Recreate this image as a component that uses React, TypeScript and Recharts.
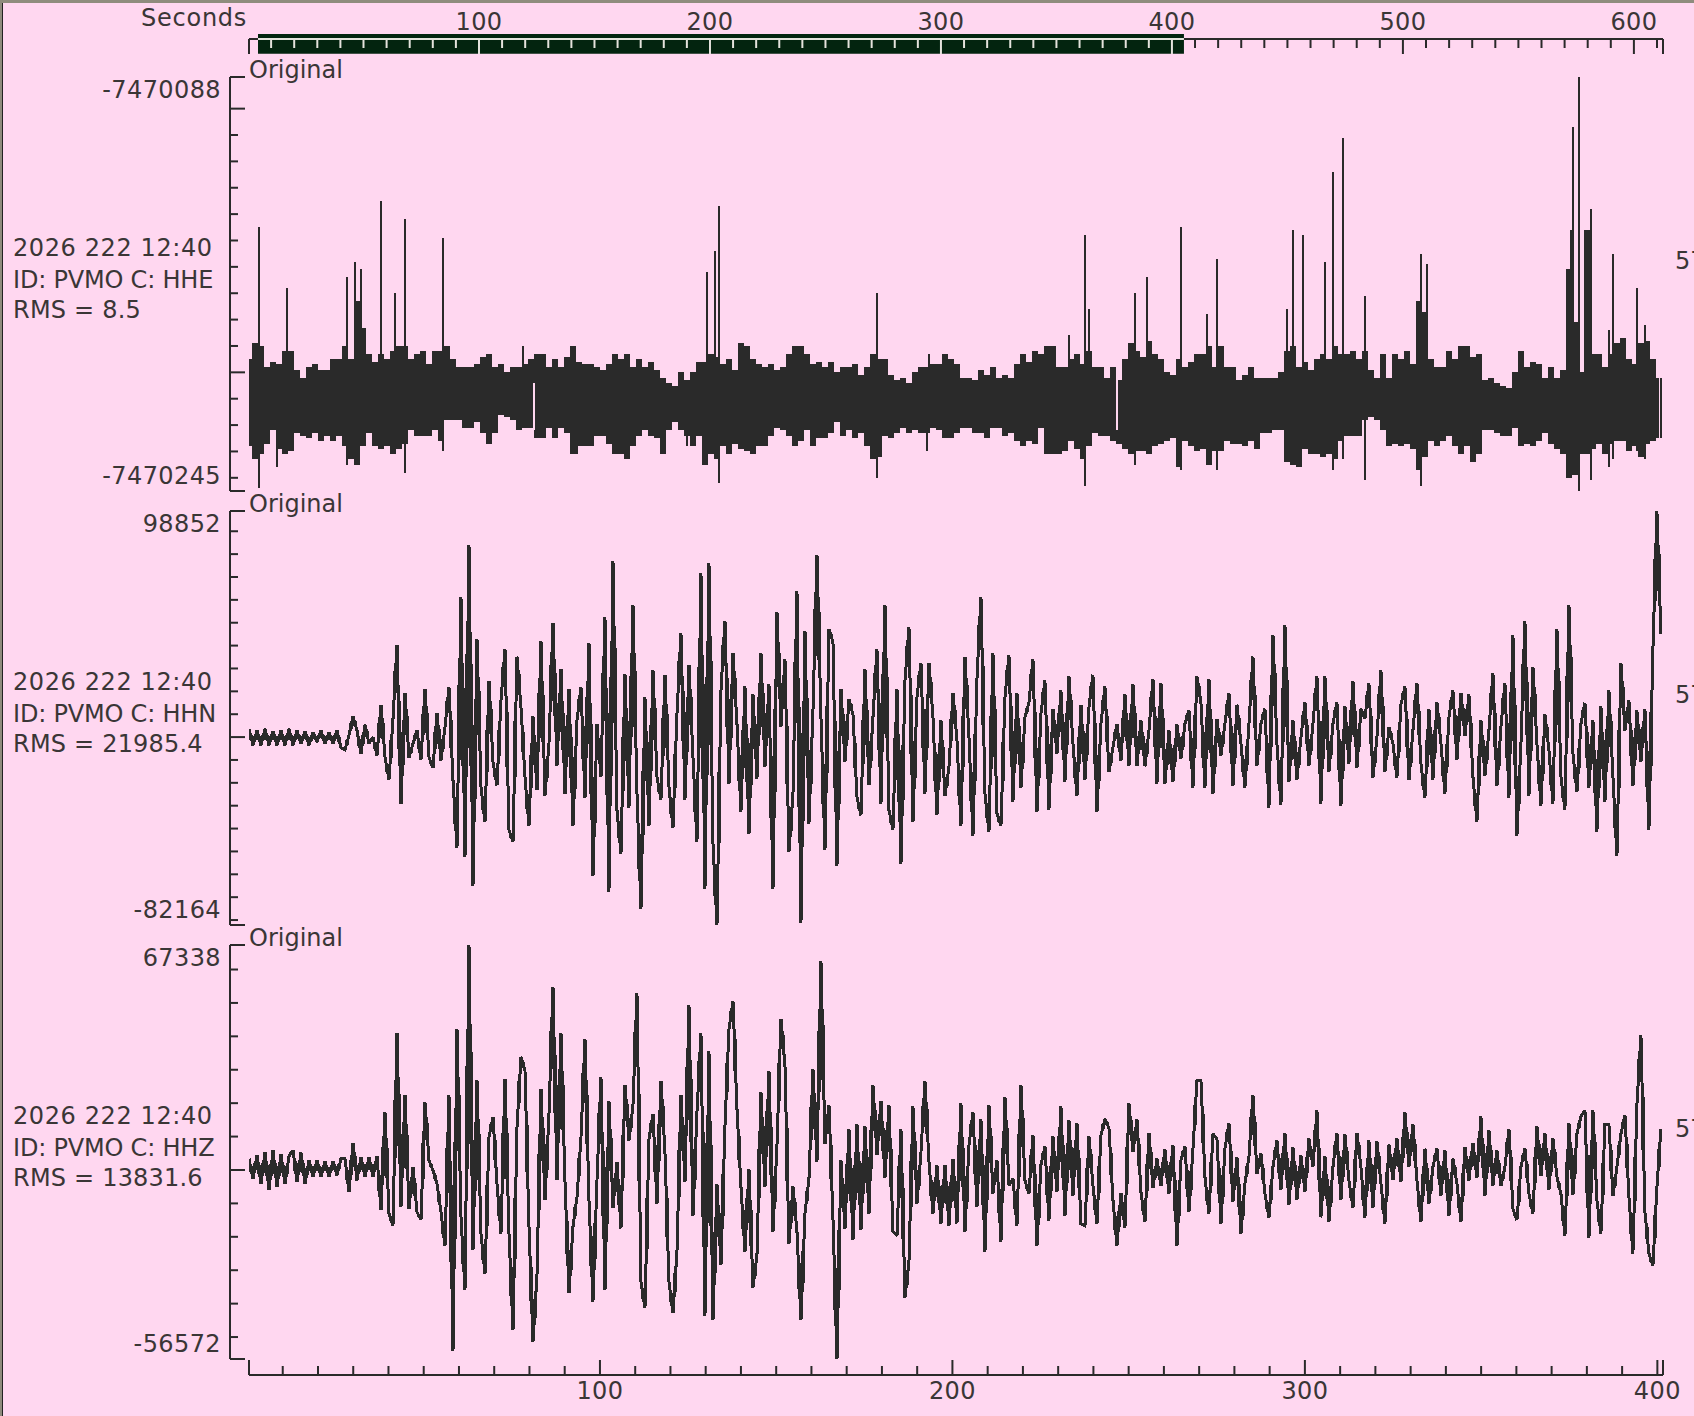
import React from "react";
import { Area, ComposedChart, Line, ReferenceArea, ReferenceLine, XAxis, YAxis } from "recharts";

const W = 1694;
const H = 1416;
const BG = "#ffd7f0";
const INK = "#2a2a2a";
const TXT = "#3a3636";
const FONT = "'DejaVu Sans', sans-serif";

const SEC_MIN = 0.43;
const SEC_MAX = 401.6;
const TOP_SEC_MAX = 612.6;
const WIN_START = 4.33;
const WIN_END = 405.2;
const TRACE_STEP = 1.1348; // seconds per plotted sample, HHN / HHZ
const ENV_STEP = 1.7021; // seconds per envelope column, HHE
const E_BASE = -7470000;
const BODY_SHARE = 0.3; // share of each swing drawn as a solid stem

const TIME_LABEL = "2026 222 12:40";
const PANEL_LABEL = "Original";
const RIGHT_LABEL = "57";
const AXIS_TITLE = "Seconds";

// HHE envelope, counts relative to E_BASE
const HHE_UPPER = [
  -195,-189,-190,-198,-196,-197,-192,-192,-199,-202,-198,-197,-199,-199,-195,-195,-190,-195,-173,-183,-193,-196,-193,-195,-192,-190,-190,-195,-193,-192,-197,-192,-192,-190,-195,-198,-198,-198,-197,-194,-193,-198,
  -197,-200,-198,-198,-197,-195,-193,-193,-198,-195,-198,-194,-190,-196,-197,-197,-198,-199,-197,-193,-195,-193,-198,-195,-198,-196,-199,-202,-204,-205,-200,-203,-200,-196,-196,-193,-194,-197,-195,-199,-189,-190,-195,-197,-198,-197,-199,-198,-193,-190,-190,-193,-197,-196,-198,-196,-200,-198,-198,
  -197,-201,-198,-193,-195,-195,-201,-203,-202,-204,-200,-198,-198,-197,-197,-193,-195,-197,-202,-202,-203,-199,-201,-198,-202,-201,-202,-197,-193,-196,-192,-193,-190,-190,-198,-198,-195,-193,-197,-192,-198,-198,-202,-198,-203,-195,-189,-192,-194,-188,-193,-195,-200,-201,-195,-198,-196,-193,
  -193,-190,-198,-190,-198,-198,-203,-201,-198,-202,-202,-202,-202,-200,-192,-190,-198,-196,-199,-195,-193,-195,-190,-193,-193,-192,-195,-192,-199,-202,-193,-202,-193,-195,-192,-197,-173,-177,-195,-198,-198,-192,-195,-190,-190,-194,-193,-203,-202,-204,-205,-206,-200,-192,-198,-196,-197,-202,-198,-202,-199,-161,-181,-200,-146,-193,-193,-198,-193,-189,-187,-195,-197,-189,-188,-195,-202,
];
const HHE_LOWER = [
  -228,-233,-231,-227,-222,-229,-231,-230,-223,-224,-225,-223,-226,-224,-226,-224,-228,-233,-235,-228,-223,-228,-229,-228,-231,-229,-227,-222,-224,-224,-224,-222,-226,-218,-218,-218,-221,-221,-219,-223,-227,-223,
  -216,-217,-218,-222,-221,-221,-225,-225,-221,-225,-221,-223,-231,-228,-228,-228,-224,-224,-227,-231,-231,-233,-228,-224,-222,-224,-225,-231,-222,-219,-222,-224,-228,-224,-235,-231,-233,-228,-231,-227,-229,-230,-231,-228,-228,-224,-221,-222,-224,-228,-226,-222,-228,-225,-225,-223,-219,-224,-222,
  -225,-223,-228,-233,-232,-224,-225,-223,-221,-223,-222,-223,-223,-221,-222,-225,-225,-223,-221,-221,-223,-223,-225,-221,-221,-224,-223,-226,-228,-226,-227,-221,-231,-231,-231,-230,-226,-229,-233,-228,-223,-224,-224,-226,-227,-229,-231,-230,-230,-231,-228,-227,-226,-225,-236,-226,-228,-230,
  -229,-235,-230,-230,-226,-227,-227,-228,-226,-229,-223,-223,-222,-222,-234,-235,-236,-229,-231,-231,-232,-231,-233,-226,-224,-224,-224,-218,-217,-218,-222,-228,-227,-228,-227,-229,-237,-232,-226,-228,-226,-224,-228,-231,-228,-234,-231,-222,-222,-223,-224,-224,-221,-228,-227,-228,-226,-223,-227,-229,-231,-240,-239,-231,-231,-229,-227,-231,-227,-226,-226,-230,-228,-232,-227,-226,-225,
];

// HHE isolated excursions: time, top, bottom
const HHE_SPIKE_SEC = [3.27,8.29,11.13,28.15,30.5,32.1,37.8,41.85,44.7,55.4,78.2,93.5,107.1,117.3,124.7,129.2,130.4,132.6,133.8,178.6,192.8,193.3,233.1,237.6,238.7,251.8,255.2,264.8,272.2,275,294.9,296.6,299.4,305.7,307.9,310.8,317,332.9,334.6,375.4,376,377.7,381.1,386.2,387.4,394.2,396.5,401];
const HHE_SPIKE_TOP = [-145,-215,-168,-164,-158,-161,-135,-170,-142,-149,-190,-205,-205,-205,-205,-205,-162,-154,-137,-170,-205,-193,-186,-148,-176,-170,-164,-145,-178,-157,-176,-146,-148,-158,-124,-111,-171,-155,-159,-146,-107,-88,-138,-184,-155,-168,-182,-202];
const HHE_SPIKE_BOTTOM = [-244,-236,-215,-235,-225,-225,-225,-225,-238,-230,-215,-231,-233,-231,-228,-235,-215,-215,-242,-240,-230,-215,-215,-243,-215,-235,-215,-237,-235,-237,-215,-215,-215,-215,-237,-233,-241,-243,-215,-215,-215,-245,-241,-236,-233,-230,-233,-225];

// HHE telemetry dropouts: time, from, to
const HHE_GAP_SEC = [81.4, 246.6];
const HHE_GAP_TOP = [-204, -202];
const HHE_GAP_BOTTOM = [-222, -222];

// HHN trace, thousands of counts
const HHN_K = [
  3.6,-3.6,2.9,-3.6,3.6,-3.6,2.6,-3.6,2.9,-3.6,3.6,-3.6,2.9,-2.9,2.6,-3.6,2.2,-2.2,2.9,-2.9,2.2,-2.9,2.9,-4.7,-5.5,0.7,9,2.9,-7.3,5.4,-2.9,0,-8,14.1,-8.7,-18.6,8,40.3,-29.4,19.3,-9,-2.9,2.9,-9.9,21.1,-8.7,-13.5,10.6,-10.2,4.4,21.8,-18.9,-48.4,61.4,-52.3,84,-65,42.9,-21.8,-37.1,24.7,-10.9,-21.1,16,38.5,-40.7,-45.8,35.2,13.1,-17.4,-38.8,9,-23.3,42,-25.7,-2.9,49.9,-12.6,29.8,-25,21.1,-38.8,7.3,21.8,-26.5,41.1,-60.6,5.8,-17.4,52.6,-67.6,77.1,-32,-50.9,27.6,-30.8,57.9,-24.7,-75.3,17.4,-38.8,29.1,-17.4,-27.3,27.3,-21.8,-39.7,10.2,45.5,-27.3,31.7,-8.7,-45.8,71.7,-66.6,76.2,-46.5,-82.1,20.4,50.9,
  -20.4,36.8,5.8,-32.7,22.1,-42.2,18.6,-18.2,36.8,-13.1,23,-66.6,54.5,4.4,34.2,-50.2,-24.7,64,-81.4,46.5,-37.8,11.6,79.7,8.7,-49.4,47.3,41.4,-56.3,21.1,-10.9,16.7,9.9,-26.2,-34.2,29.8,-21.1,8.7,38.5,-29.1,57.9,-32,-40.4,21.1,-55.3,24.7,48,-37.1,17.4,32.4,-24.7,32.4,8.7,-34.2,7.3,-25.7,-13.1,19.3,-1.5,-38.8,35.2,0,-43.2,25.4,61.4,-24.7,-41.4,36.8,-33.4,-38.8,17.4,35.9,-28.4,19.3,-22.1,8.7,15.1,34.2,-32.7,10.2,24.7,-31.7,12.4,-7.3,20.4,-19.6,26.5,-2.9,-25.7,14.2,-18.9,13.1,27.3,-32.7,5.8,22.1,-15.3,-4.4,5.8,-10.2,18.6,-12.8,23,-12.8,7.3,-12.8,2.9,25.4,-20.4,23.8,-20.4,2.9,-19.6,5.5,-9.5,5.8,11.6,-22.1,26.5,15.1,-22.1,
  25.4,-24.7,8,-8,5.8,19.3,-21.4,14.2,-2.9,-22.1,5.8,35.2,-12.6,5.8,12.4,-30.8,44.8,-2.9,-29.8,49.1,-19.6,7.3,-18.6,0,15.1,-12.6,5.8,26.5,-29.1,26.5,-15.3,5.8,15.1,-30.1,13.4,-11.6,24.7,-13.4,12.4,8,23.7,-17.7,0,29.1,-15.3,4.4,-2.9,-17.7,14.2,22.1,-18.9,2.9,23.7,-11.6,-26.5,12.4,-18.6,15.1,-2.9,-24.7,8.7,20.4,-9.9,19.3,0.4,18.6,-17.4,-37.1,7.3,-17,2.9,28.1,-21.5,4.4,23.7,-26.5,44.8,-43.2,-2.9,50.9,-25.7,30.8,-2.9,-30.1,9.9,-5.8,-29.1,47.3,-17.4,-31.7,57.9,-7.3,-24,5.8,15,-22.1,7.3,-41.4,13.4,-28.4,20.4,-17.4,-51.9,32.4,2.9,16,-21.4,11.6,-10.9,12.4,-40.4,38.5,98.8,45.1,
];

// HHZ trace, thousands of counts
const HHZ_K = [
  3.4,-2.6,4.4,-4.1,5.4,-5.9,5.9,-5.1,4.7,-4.1,4.1,5.9,-3.6,5.2,-4.1,2.9,-2.1,2.9,-2.1,2.7,-2.1,2.7,-1.6,3.4,3.4,-6.6,8.1,-3.1,3.9,-2.1,3.9,-2.1,4.1,-12,17.2,-13,-16.7,41.1,-11,22.5,-11.6,0.9,-12.6,-14.8,20.2,2.9,-0.1,-4.1,-12.6,-22.7,22.5,-54.3,42.2,-14,-35.9,67.2,-24,26.8,-19,-31,9.8,15.8,-4.1,-19,27.3,-19,-47.9,12.8,33.9,29.7,-17,-51.4,-31.5,24.3,-9.1,16.8,54.8,-3.1,41,-3.6,-36.9,-17,-8.1,9.8,39.2,-9.1,-39.4,-3.1,
  27.9,-36,20.7,-11.4,2.4,-17.5,25.5,8.8,19.3,53.1,-33.5,-41.2,9.3,16.8,-10.1,26.7,5.3,-33.5,-42.9,-24.5,22.5,-3.6,49.3,-13.8,17.3,41,-43.6,35.7,-44.9,-4.3,-28.5,13.3,42.2,50.6,18.3,-5.1,-24.5,0.4,-35.2,-25.5,23.2,-5.1,29.7,-18.5,7.3,45.2,31.2,-22,-4.9,-18.5,-44.9,-13,-2.6,30.2,2.4,62.6,7.8,19.5,-14.5,-56.8,2.9,-17.5,12.3,-21,13.6,-18,13,-13.1,25.4,4.4,20.7,-2.4,19.5,-18.5,-19.7,12.3,-38.2,-27.5,19,-10.1,5.3,26.7,2.4,-13.1,1.4,-16,1.6,-16.7,3.4,-16,20,-18.5,7.3,17.3,-11.1,15.3,-24.5,19.5,-7.1,2.9,
  -21.5,21.9,-4.6,-2.6,-16.7,25.4,-3.1,-7.1,10.5,-22.8,1.6,7,-15.1,10,-6.6,19,-13.8,14.8,-7.8,14.1,-16.1,-16.7,10,-4.6,-16.1,10.5,15.3,12.5,-9,-22.7,-6.8,-17.3,20,5.3,15.3,-6.6,-15.5,11.1,-5.4,3.4,-4.8,6.3,-7.2,7.5,-22.7,2.9,7,-12.6,6.3,26.7,
  26.8,-2.1,-13,10.8,9.4,-16,6.4,14.1,-9.6,3.9,-19,-4.1,3.9,22.5,-1.1,4.9,-7.1,-14.2,0.9,8.8,-6.1,11.1,-10.6,6.9,-8.9,4.4,-6.6,9.4,0.9,17.8,-14.2,4.1,-15.5,0.9,11.1,-8.9,10.6,-3.1,-11.3,11.1,0.9,-14.2,8.8,-11.3,8.6,-4.1,-16,7.6,-3.1,9.4,-3.6,17.2,0.9,13.6,-3.1,-15.5,6.4,-10.1,0.9,6.4,-7.8,5.9,-13.7,3.4,-4.1,-15.5,6.9,-3.1,8.1,-2.4,16,-7.8,11.8,-4.8,5.9,-4.8,0.9,12.3,-11.6,-15,0.9,6.4,-7.1,-13,13,-1.9,11.1,-5.9,9.4,-2.1,-7.1,-19.7,14.1,-7.6,10.8,16,17.8,-20.3,17.8,-9.1,-19,13.6,13.6,-7.8,0.9,10.8,16.5,-8.1,-25,19.6,40.5,-12.6,-25,-28.7,-5.1,12.3,
];

// Axis ticks
const HHE_TICKS = [-7470088,-7470100,-7470110,-7470120,-7470130,-7470140,-7470150,-7470160,-7470170,-7470180,-7470190,-7470200,-7470210,-7470220,-7470230,-7470240,-7470245];
const HHN_TICKS = [98852,90000,80000,70000,60000,50000,40000,30000,20000,10000,0,-10000,-20000,-30000,-40000,-50000,-60000,-70000,-80000,-82164];
const HHZ_TICKS = [67338,60000,50000,40000,30000,20000,10000,0,-10000,-20000,-30000,-40000,-50000,-56572];
const TOP_TICKS = [SEC_MIN,10,20,30,40,50,60,70,80,90,100,110,120,130,140,150,160,170,180,190,200,210,220,230,240,250,260,270,280,290,300,310,320,330,340,350,360,370,380,390,400,410,420,430,440,450,460,470,480,490,500,510,520,530,540,550,560,570,580,590,600,610,TOP_SEC_MAX];
const BOTTOM_TICKS = [SEC_MIN,10,20,30,40,50,60,70,80,90,100,110,120,130,140,150,160,170,180,190,200,210,220,230,240,250,260,270,280,290,300,310,320,330,340,350,360,370,380,390,400,SEC_MAX];
const AXIS_LEVEL = 15; // height of the time-strip rule inside its 0-20 band

const hheRows = HHE_UPPER.map((hi, i) => ({
  sec: SEC_MIN + i * ENV_STEP,
  band: [E_BASE + HHE_LOWER[i], E_BASE + hi],
}));
const verticals = (secs: number[], tops: number[], bottoms: number[]) =>
  secs.flatMap((sec, i) => [
    { sec, v: E_BASE + tops[i] },
    { sec, v: E_BASE + bottoms[i] },
    { sec, v: null },
  ]);
const hheSpikeRows = verticals(HHE_SPIKE_SEC, HHE_SPIKE_TOP, HHE_SPIKE_BOTTOM);
const hheGapRows = verticals(HHE_GAP_SEC, HHE_GAP_TOP, HHE_GAP_BOTTOM);
// each row also carries a solid stem around the middle of the swing to the next sample
const traceRows = (k: number[]) =>
  k.map((v, i) => {
    const next = k[Math.min(i + 1, k.length - 1)];
    const mid = (v + next) / 2;
    const half = (Math.abs(v - next) * BODY_SHARE) / 2;
    return { sec: SEC_MIN + i * TRACE_STEP, v: v * 1000, stem: [(mid - half) * 1000, (mid + half) * 1000] };
  });
const hhnRows = traceRows(HHN_K);
const hhzRows = traceRows(HHZ_K);
const topRows = TOP_TICKS.map((sec) => ({ sec, rule: AXIS_LEVEL }));

const panelText = { fontFamily: FONT, fontSize: 24, fill: TXT } as const;

function yTick(top: number, bottom: number, domain: [number, number], major: number) {
  return (p: any) => {
    const v = p.payload.value;
    const isEnd = v === domain[0] || v === domain[1];
    const long = isEnd || v % major === 0;
    const x0 = 230;
    return (
      <g>
        <line x1={x0} x2={long ? 245 : 238} y1={p.y} y2={p.y} stroke={INK} strokeWidth={2} />
        {isEnd ? (
          <text {...panelText} x={221} y={v === domain[1] ? top + 21 : bottom - 7} textAnchor="end" letterSpacing={0.4}>
            {v}
          </text>
        ) : null}
      </g>
    );
  };
}

function Panel(props: {
  top: number;
  bottom: number;
  domain: [number, number];
  ticks: number[];
  major: number;
  channel: string;
  rms: string;
  data?: any[];
  children: React.ReactNode;
}) {
  const { top, bottom, domain, ticks, major, channel, rms, data, children } = props;
  return (
    <div style={{ position: "absolute", left: 0, top: 0 }}>
      <ComposedChart width={W} height={H} data={data} margin={{ top, bottom: H - bottom, left: 0, right: W - 1663 }}>
        <XAxis hide type="number" dataKey="sec" domain={[SEC_MIN, SEC_MAX]} padding={{ left: 19, right: 0 }} allowDataOverflow />
        <YAxis
          type="number"
          width={230}
          domain={domain}
          ticks={ticks}
          interval={0}
          allowDataOverflow
          tickLine={false}
          axisLine={{ stroke: INK, strokeWidth: 2 }}
          tick={yTick(top, bottom, domain, major)}
        />
        {children}
        <text {...panelText} x={249} y={top + 1}>{PANEL_LABEL}</text>
        <text {...panelText} x={13} y={top + 179} letterSpacing={0.6}>{TIME_LABEL}</text>
        <text {...panelText} x={13} y={top + 211} letterSpacing={-0.2}>{`ID: PVMO C: ${channel}`}</text>
        <text {...panelText} x={13} y={top + 241} letterSpacing={0.2}>{`RMS = ${rms}`}</text>
        <text {...panelText} x={1675} y={top + 192}>{RIGHT_LABEL}</text>
      </ComposedChart>
    </div>
  );
}

function topTick(p: any) {
  const v = p.payload.value;
  const end = v === SEC_MIN || v === TOP_SEC_MAX;
  const hundred = v % 100 === 0 && !end;
  const inWin = v > WIN_START && v < WIN_END;
  return (
    <g>
      <line x1={p.x} x2={p.x} y1={39} y2={end || hundred ? 54 : 48} stroke={inWin ? "#e4e2dc" : INK} strokeWidth={2} />
      {hundred ? (
        <text {...panelText} x={p.x} y={30} textAnchor="middle" letterSpacing={0.4}>{v}</text>
      ) : null}
    </g>
  );
}

function bottomTick(p: any) {
  const v = p.payload.value;
  const end = v === SEC_MIN || v === SEC_MAX;
  const hundred = v % 100 === 0 && !end;
  return (
    <g>
      <line x1={p.x} x2={p.x} y1={1375} y2={end || hundred ? 1360 : 1366} stroke={INK} strokeWidth={2} />
      {hundred ? (
        <text {...panelText} x={p.x} y={1399} textAnchor="middle" letterSpacing={0.4}>{v}</text>
      ) : null}
    </g>
  );
}

const traceProps = {
  type: "linear",
  dataKey: "v",
  stroke: INK,
  strokeWidth: 3,
  strokeLinejoin: "miter",
  strokeMiterlimit: 2,
  dot: false,
  activeDot: false,
  isAnimationActive: false,
} as any;

const stemProps = {
  type: "stepAfter",
  dataKey: "stem",
  stroke: "none",
  fill: INK,
  fillOpacity: 1,
  dot: false,
  activeDot: false,
  isAnimationActive: false,
} as any;

export default function App() {
  return (
    <div style={{ position: "absolute", left: 0, top: 0, width: W, height: H, background: BG, overflow: "hidden" }}>
      <style>{`.recharts-line-curve, .recharts-area-area { shape-rendering: crispEdges; }`}</style>
      <div style={{ position: "absolute", left: 0, top: 0, width: W, height: 3, background: "#8f8c7d" }} />
      <div style={{ position: "absolute", left: 0, top: 0, width: 2, height: H, background: "#8f8c7d" }} />
      <div style={{ position: "absolute", left: 2, top: 3, width: 1, height: H, background: "#222" }} />

      {/* top time strip */}
      <div style={{ position: "absolute", left: 0, top: 0 }}>
        <ComposedChart
          width={W}
          height={H}
          data={topRows}
          margin={{ top: 4, bottom: H - 54, left: 249, right: W - 1663 }}
        >
          <XAxis
            type="number"
            dataKey="sec"
            orientation="top"
            height={30}
            domain={[SEC_MIN, TOP_SEC_MAX]}
            ticks={TOP_TICKS}
            interval={0}
            axisLine={false}
            tickLine={false}
            tick={topTick}
          />
          <YAxis hide type="number" domain={[0, 20]} />
          <ReferenceArea x1={WIN_START} x2={WIN_END} y1={0.3} y2={20} fill="#03240f" fillOpacity={1} stroke="none" />
          <Line dataKey="rule" stroke={INK} strokeWidth={2} dot={false} activeDot={false} isAnimationActive={false} />
          <ReferenceLine segment={[{ x: WIN_START, y: AXIS_LEVEL }, { x: WIN_END, y: AXIS_LEVEL }]} stroke="#e4e2dc" strokeWidth={2} />
          <text {...panelText} x={141} y={26} letterSpacing={0.75}>{AXIS_TITLE}</text>
        </ComposedChart>
      </div>

      <Panel top={77} bottom={491} domain={[-7470245, -7470088]} ticks={HHE_TICKS} major={100} channel="HHE" rms="8.5" data={hheRows}>
        <Area type="step" dataKey="band" stroke="none" fill={INK} fillOpacity={1} dot={false} activeDot={false} isAnimationActive={false} />
        <Line data={hheSpikeRows} dataKey="v" stroke={INK} strokeWidth={2} dot={false} activeDot={false} connectNulls={false} isAnimationActive={false} />
        <Line data={hheGapRows} dataKey="v" stroke={BG} strokeWidth={2} dot={false} activeDot={false} connectNulls={false} isAnimationActive={false} />
      </Panel>

      <Panel top={511} bottom={925} domain={[-82164, 98852]} ticks={HHN_TICKS} major={100000} channel="HHN" rms="21985.4" data={hhnRows}>
        <Area {...stemProps} />
        <Line {...traceProps} />
      </Panel>

      <Panel top={945} bottom={1359} domain={[-56572, 67338]} ticks={HHZ_TICKS} major={100000} channel="HHZ" rms="13831.6" data={hhzRows}>
        <Area {...stemProps} />
        <Line {...traceProps} />
      </Panel>

      {/* bottom time axis */}
      <div style={{ position: "absolute", left: 0, top: 0 }}>
        <ComposedChart
          width={W}
          height={H}
          data={BOTTOM_TICKS.map((sec) => ({ sec }))}
          margin={{ top: 1355, bottom: H - 1405, left: 249, right: W - 1663 }}
        >
          <XAxis
            type="number"
            dataKey="sec"
            height={30}
            domain={[SEC_MIN, SEC_MAX]}
            ticks={BOTTOM_TICKS}
            interval={0}
            tickLine={false}
            axisLine={{ stroke: INK, strokeWidth: 2 }}
            tick={bottomTick}
          />
          <YAxis hide type="number" domain={[0, 1]} />
        </ComposedChart>
      </div>
    </div>
  );
}
